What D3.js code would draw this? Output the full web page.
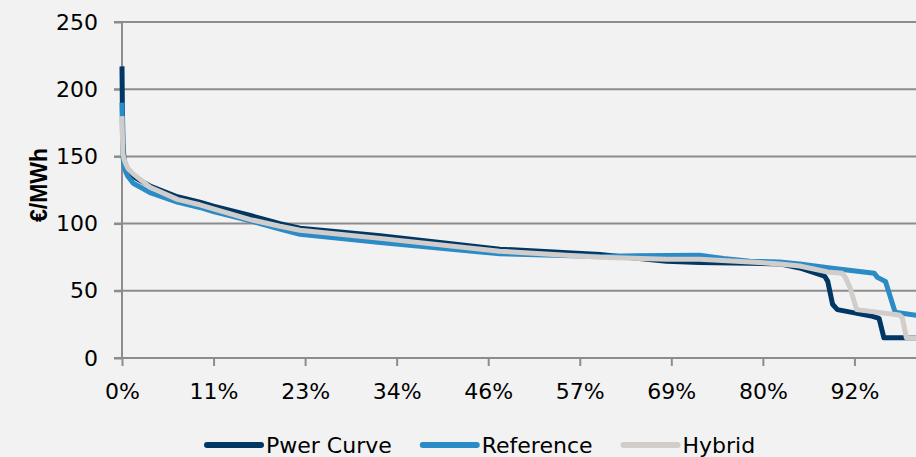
<!DOCTYPE html>
<html>
<head>
<meta charset="utf-8">
<script src="https://cdn.jsdelivr.net/npm/d3@7"></script>
<style>
  html, body { margin: 0; padding: 0; background: #f2f2f2; overflow: hidden; }
  text { font-family: "DejaVu Sans", sans-serif; fill: #000; }
</style>
</head>
<body>
<div id="wrapper"></div>
<script>
// share of hours (%) -> price (EUR/MWh), one pair of arrays per series
const powerX = [0, 0.05, 0.12, 0.25, 0.5, 0.75, 1.4, 3.5, 6.9, 9.7, 11.4, 16, 19.7, 22.2, 32.2, 47.1, 59.6, 67.9, 72, 78.3, 82, 84.5, 87.6, 88.0, 88.6, 89.2, 93.6, 94.4, 95.0, 100]
const powerY = [217, 185, 160, 148, 142, 139, 135, 128, 120, 116, 113, 106, 100, 96.5, 91, 81, 77, 72, 71, 70.5, 70, 67, 61, 57, 40, 36, 31, 29.5, 15, 15]

const refX = [0, 0.05, 0.12, 0.25, 0.5, 0.75, 1.4, 3.5, 6.9, 9.7, 11.4, 16, 19.7, 22.2, 32.2, 47.1, 59.6, 64, 72, 75, 78.3, 82, 84.5, 88.3, 93.8, 94.2, 95.2, 96.4, 100]
const refY = [190, 170, 150, 143, 138, 135, 130, 123, 116, 112, 109, 102, 96, 92, 86, 77.5, 75.5, 76, 76.5, 74, 72, 71.5, 70, 67, 63, 60, 57, 34, 31]

const hybX = [0, 0.05, 0.12, 0.25, 0.5, 0.75, 1.4, 3.5, 6.9, 9.7, 11.4, 16, 19.7, 22.2, 32.2, 47.1, 59.6, 67.9, 72, 78.3, 82, 84.5, 88, 89.8, 90.2, 90.8, 91.6, 96.9, 97.3, 97.8, 100]
const hybY = [180, 165, 152, 148, 144, 141, 137, 127, 118, 114, 111, 103, 98, 95, 89, 79.5, 75, 73.5, 73.5, 71.5, 70, 68.5, 64, 63, 60, 52, 36, 32, 30, 15, 15]

const seriesNames = ["Pwer Curve", "Reference", "Hybrid"]
const seriesColors = ["#003764", "#2a8bc6", "#d0cdcb"]

const yTicks = [0, 50, 100, 150, 200, 250]
const xTickHours = [0, 1000, 2000, 3000, 4000, 5000, 6000, 7000, 8000]
const xTickLabels = ["0%", "11%", "23%", "34%", "46%", "57%", "69%", "80%", "92%"]
const hoursInYear = 8760

function drawChart() {
    let dimensions = {
        width: 916,
        height: 457,
        margin: { top: 22, right: -8, bottom: 99, left: 122 },
    }
    dimensions.boundedWidth = dimensions.width - dimensions.margin.left - dimensions.margin.right
    dimensions.boundedHeight = dimensions.height - dimensions.margin.top - dimensions.margin.bottom

    const svg = d3.select("#wrapper")
        .append("svg")
        .attr("width", dimensions.width)
        .attr("height", dimensions.height)
        .style("display", "block")
        .style("background", "#f2f2f2")

    const bounds = svg.append("g")
        .attr("transform", `translate(${dimensions.margin.left},${dimensions.margin.top})`)

    const xScale = d3.scaleLinear().domain([0, 100]).range([0, dimensions.boundedWidth])
    const yScale = d3.scaleLinear().domain([0, 250]).range([dimensions.boundedHeight, 0])

    // grid lines
    bounds.append("g")
        .selectAll("line")
        .data(yTicks.filter(d => d > 0))
        .enter().append("line")
        .attr("x1", -8)
        .attr("x2", dimensions.boundedWidth)
        .attr("y1", d => yScale(d))
        .attr("y2", d => yScale(d))
        .attr("stroke", "#8c8c8c")
        .attr("stroke-width", 2)

    // y axis
    const yAxis = bounds.append("g")
        .call(d3.axisLeft(yScale).tickValues(yTicks).tickSize(8).tickPadding(16))
    yAxis.selectAll("path, line").attr("stroke", "#8c8c8c").attr("stroke-width", 2)
    yAxis.select(".domain").attr("d", `M0,${dimensions.boundedHeight}V0`)
    yAxis.selectAll("text").style("font-size", "22px").style("font-family", "DejaVu Sans")

    // x axis
    const xAxis = bounds.append("g")
        .attr("transform", `translate(0,${dimensions.boundedHeight})`)
        .call(d3.axisBottom(xScale)
            .tickValues(xTickHours.map(h => h / hoursInYear * 100))
            .tickFormat((d, i) => xTickLabels[i])
            .tickSize(8).tickPadding(17))
    xAxis.selectAll("path, line").attr("stroke", "#8c8c8c").attr("stroke-width", 2)
    xAxis.select(".domain").attr("d", `M-8,0H${dimensions.boundedWidth}`)
    xAxis.selectAll("text").style("font-size", "22px").style("font-family", "DejaVu Sans")

    // axis title
    svg.append("text")
        .attr("transform", "translate(47,185) rotate(-90)")
        .attr("text-anchor", "middle")
        .style("font-family", "Liberation Sans, Arial, sans-serif")
        .style("font-size", "23px")
        .style("font-weight", "bold")
        .text("€/MWh")

    const series = [
        { name: seriesNames[0], color: seriesColors[0], xs: powerX, ys: powerY },
        { name: seriesNames[1], color: seriesColors[1], xs: refX, ys: refY },
        { name: seriesNames[2], color: seriesColors[2], xs: hybX, ys: hybY },
    ]

    const line = d3.line()
        .x(d => xScale(d[0]))
        .y(d => yScale(d[1]))

    bounds.append("g")
        .selectAll("path")
        .data(series)
        .enter().append("path")
        .attr("d", s => line(d3.zip(s.xs, s.ys)))
        .attr("fill", "none")
        .attr("stroke", s => s.color)
        .attr("stroke-width", 5)
        .attr("stroke-linejoin", "round")

    // legend
    const legend = svg.append("g").attr("transform", "translate(207,445)")
    let cursor = 0
    series.forEach(s => {
        const item = legend.append("g").attr("transform", `translate(${cursor},0)`)
        item.append("line")
            .attr("x1", 0).attr("x2", 54)
            .attr("stroke", s.color)
            .attr("stroke-width", 6)
            .attr("stroke-linecap", "round")
        const label = item.append("text")
            .attr("x", 59)
            .attr("y", 8)
            .style("font-size", "22px")
            .text(s.name)
        cursor += 59 + label.node().getComputedTextLength() + 31
    })
}
drawChart()
</script>
</body>
</html>
